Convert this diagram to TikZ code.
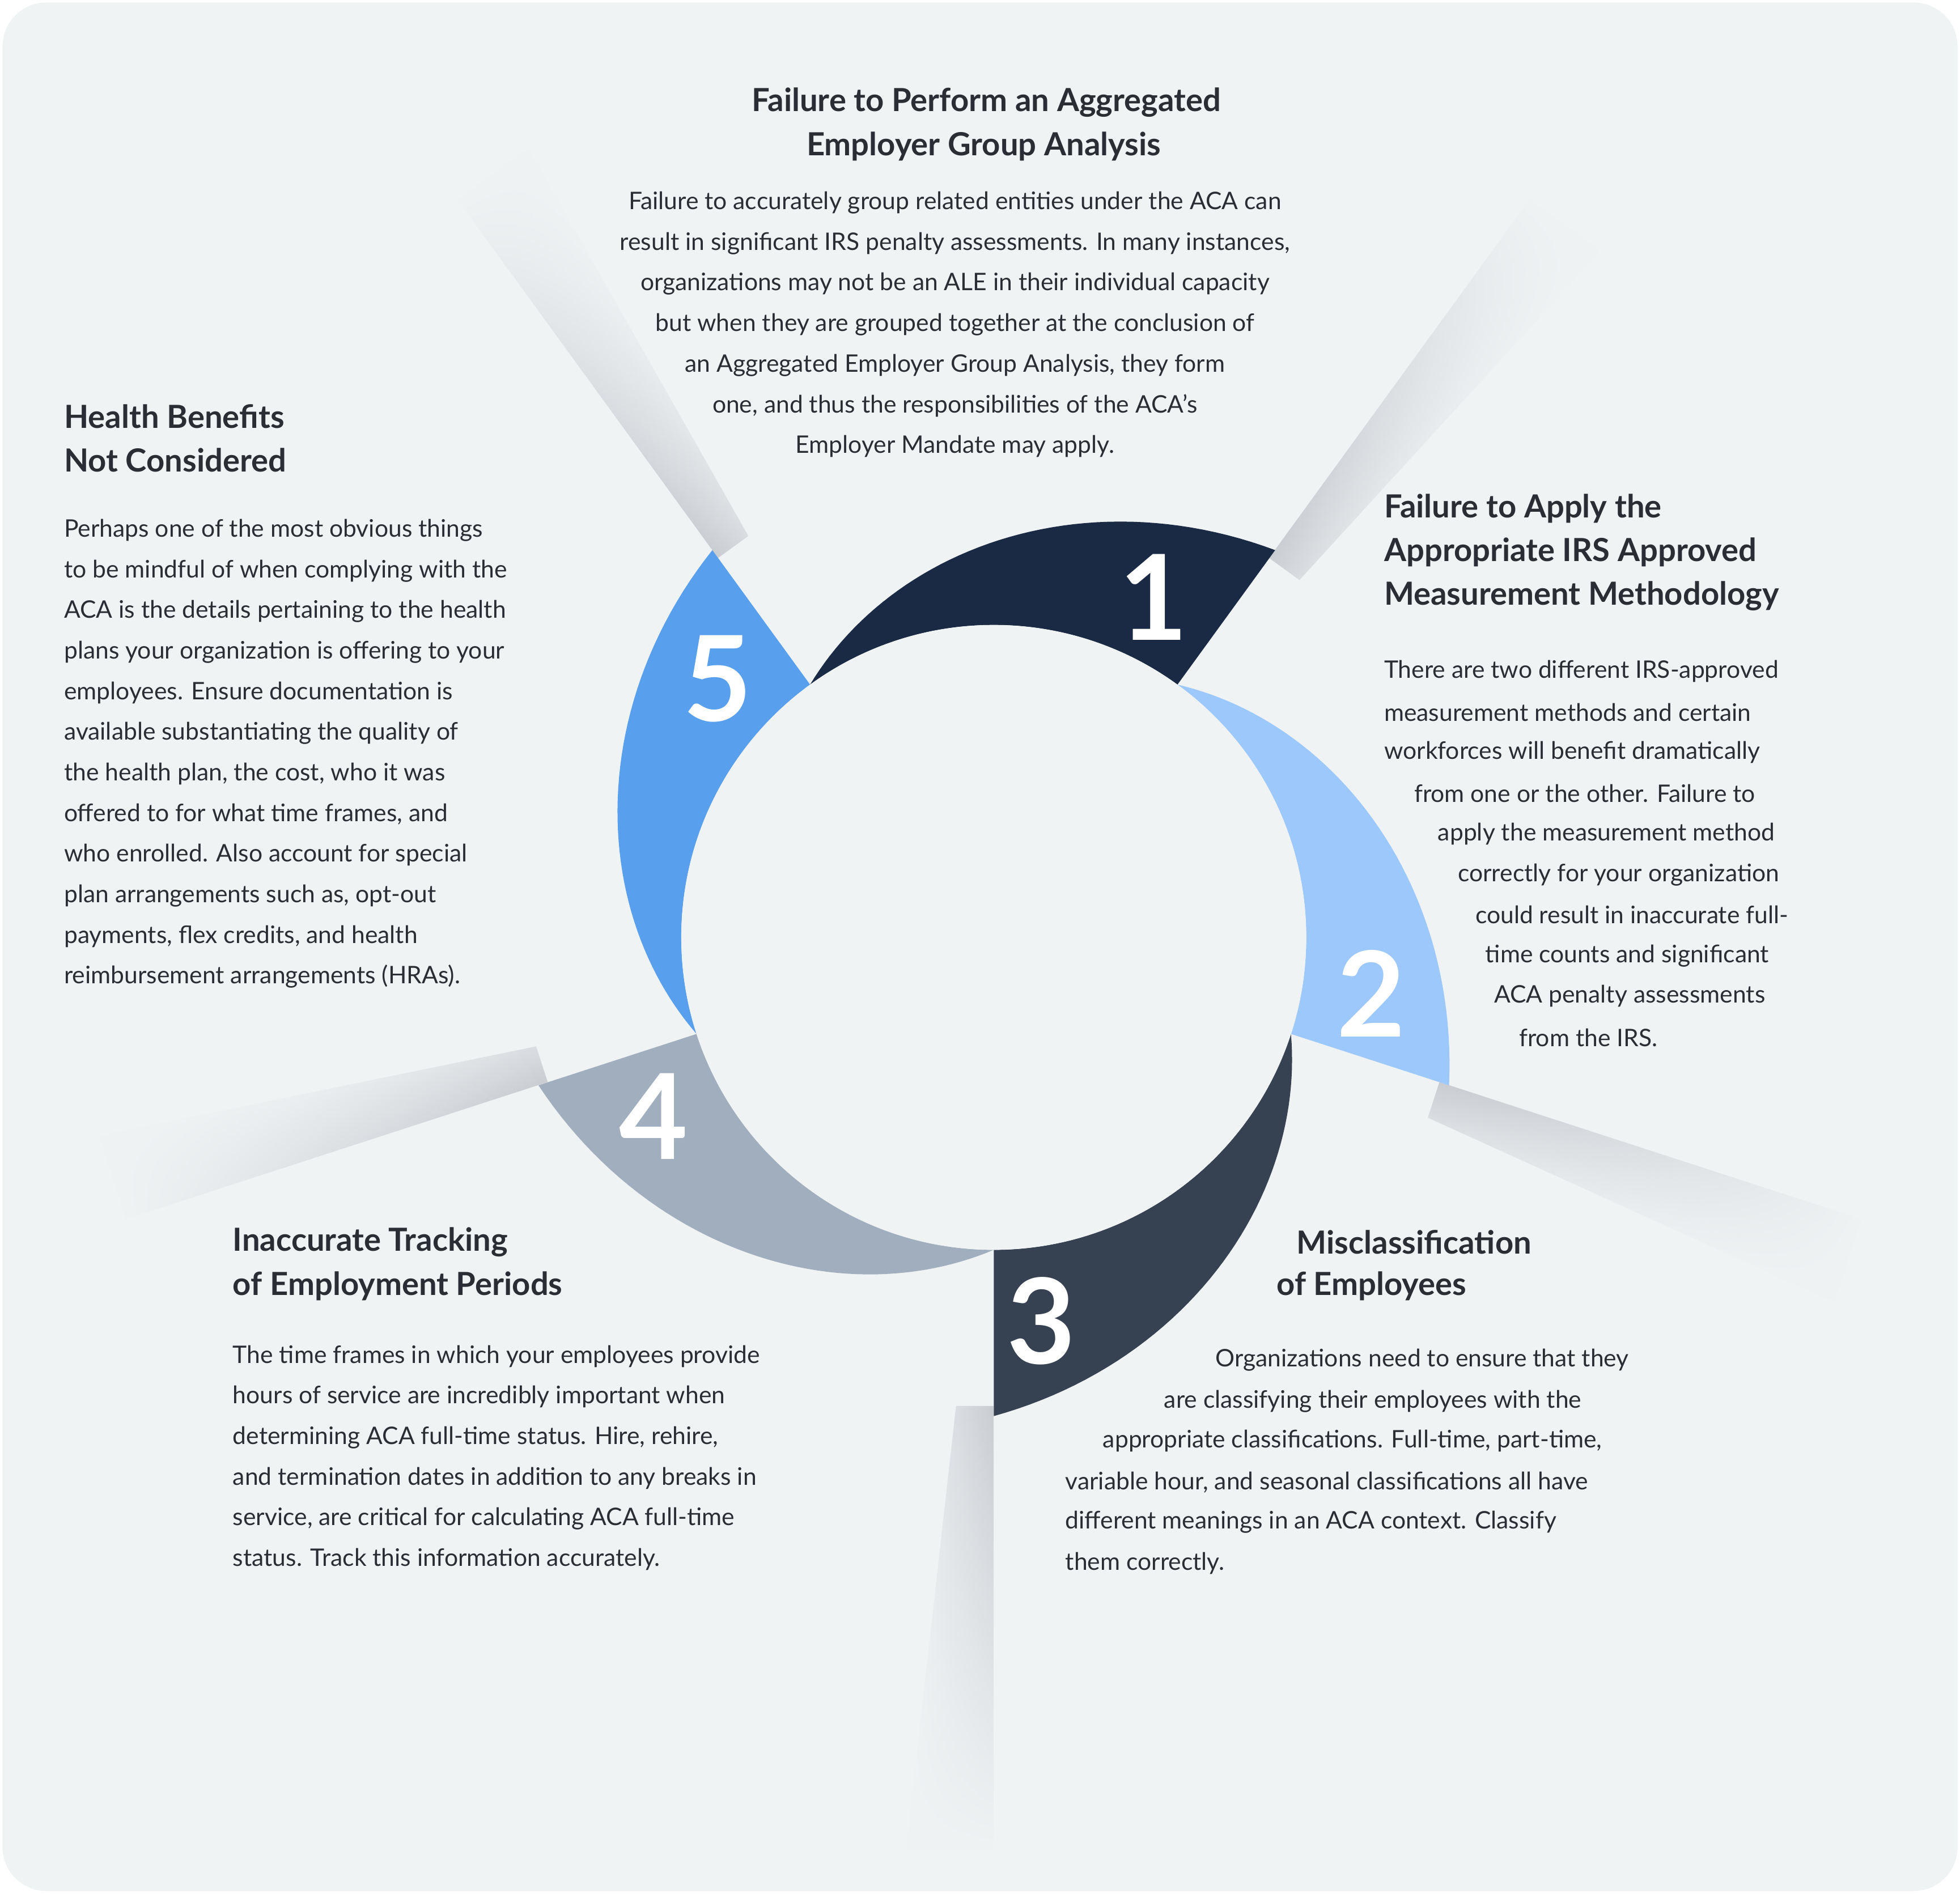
\documentclass[tikz,border=0pt]{standalone}
\usepackage{fontspec}
\setmainfont{Lato}
\usetikzlibrary{fadings}
\definecolor{bg}{HTML}{F0F3F4}
\definecolor{shd}{HTML}{C9CDD2}
\definecolor{txt}{HTML}{2A2D33}
\definecolor{cA}{HTML}{1B2A44}
\definecolor{cB}{HTML}{9DC8FB}
\definecolor{cC}{HTML}{364152}
\definecolor{cD}{HTML}{A0AEBD}
\definecolor{cE}{HTML}{589FEE}
\tikzset{
 body/.style={font=\fontsize{11}{18.5}\selectfont, text=txt, inner sep=0pt, anchor=west},
 ttl/.style={font=\fontsize{14.5}{20}\selectfont\bfseries, text=txt, inner sep=0pt, anchor=west},
 num/.style={font=\fontsize{54}{54}\selectfont\bfseries, text=white, inner sep=0pt},
}
\begin{document}
\begin{tikzpicture}[x=0.02cm,y=-0.02cm]
\useasboundingbox (0,0) rectangle (1568,1515);
\fill[white] (0,0) rectangle (1568,1515);
\fill[bg, rounded corners=20] (2,2) rectangle (1566,1513);
% shadows
\foreach \a/\n in {54/sa,-18/sb,-90/sc,-162/sd,126/se}{
 \begin{scope}[x=0.02cm,y=0.02cm,transform canvas={shift={(15.9cm,-15cm)},rotate=\a}]
  \shade[top color=shd, bottom color=bg, path fading=east] (375,0) -- (730,0) -- (730,-70) -- (375,-30) -- cycle;
 \end{scope}}
% segments
\foreach \a/\c/\n in {54/cA/1,-18/cB/2,-90/cC/3,-162/cD/4,126/cE/5}{
 \fill[\c] plot[domain=72:0,samples=50] ({795+(250+133*(72-\x)/72)*cos(\a+\x)},{750-(250+133*(72-\x)/72)*sin(\a+\x)})
   -- plot[domain=0:72,samples=50] ({795+250*cos(\a+\x)},{750-250*sin(\a+\x)}) -- cycle;
}
\fill[bg] (795,750) circle (250);
\node[num] (n1) at (923,478) {1};
\node[num] (n2) at (1097,795) {2};
\node[num] (n3) at (833,1057) {3};
\node[num] (n4) at (523,893) {4};
\node[num] (n5) at (574,543) {5};
% top
\node[ttl,anchor=center] (t1) at (789,82) {Failure to Perform an Aggregated};
\node[ttl,anchor=center] (t1b) at (787,117) {Employer Group Analysis};
\node[body,anchor=north,align=center] (b1) at (764,153) {Failure to accurately group related entities under the ACA can\\result in significant IRS penalty assessments. In many instances,\\organizations may not be an ALE in their individual capacity\\but when they are grouped together at the conclusion of\\an Aggregated Employer Group Analysis, they form\\one, and thus the responsibilities of the ACA’s\\Employer Mandate may apply.};
% right
\node[ttl] (t2a) at (1107,407) {Failure to Apply the};
\node[ttl] (t2b) at (1107,442) {Appropriate IRS Approved};
\node[ttl] (t2c) at (1107,477) {Measurement Methodology};
\node[body] (r1) at (1107,537) {There are two different IRS-approved};
\node[body] (r2) at (1107,570) {measurement methods and certain};
\node[body] (r3) at (1107,602) {workforces will benefit dramatically};
\node[body] (r4) at (1131,635) {from one or the other. Failure to};
\node[body] (r5) at (1150,667) {apply the measurement method};
\node[body] (r6) at (1166,700) {correctly for your organization};
\node[body] (r7) at (1180,732) {could result in inaccurate full-};
\node[body] (r8) at (1188,765) {time counts and significant};
\node[body] (r9) at (1195,797) {ACA penalty assessments};
\node[body] (r10) at (1215,830) {from the IRS.};
% left
\node[ttl] (t5a) at (51,333) {Health Benefits};
\node[ttl] (t5b) at (51,368) {Not Considered};
\node[body,anchor=north west,align=left] (b5) at (51,415) {Perhaps one of the most obvious things\\to be mindful of when complying with the\\ACA is the details pertaining to the health\\plans your organization is offering to your\\employees. Ensure documentation is\\available substantiating the quality of\\the health plan, the cost, who it was\\offered to for what time frames, and\\who enrolled. Also account for special\\plan arrangements such as, opt-out\\payments, flex credits, and health\\reimbursement arrangements (HRAs).};
% bottom left
\node[ttl] (t4a) at (186,994) {Inaccurate Tracking};
\node[ttl] (t4b) at (186,1029) {of Employment Periods};
\node[body,anchor=north west,align=left] (b4) at (186,1076) {The time frames in which your employees provide\\hours of service are incredibly important when\\determining ACA full-time status. Hire, rehire,\\and termination dates in addition to any breaks in\\service, are critical for calculating ACA full-time\\status. Track this information accurately.};
% bottom right
\node[ttl] (t3a) at (1037,994) {Misclassification};
\node[ttl] (t3b) at (1021,1029) {of Employees};
\node[body] (m1) at (972,1088) {Organizations need to ensure that they};
\node[body] (m2) at (931,1121) {are classifying their employees with the};
\node[body] (m3) at (882,1153) {appropriate classifications. Full-time, part-time,};
\node[body] (m4) at (852,1186) {variable hour, and seasonal classifications all have};
\node[body] (m5) at (852,1218) {different meanings in an ACA context. Classify};
\node[body] (m6) at (852,1251) {them correctly.};
\end{tikzpicture}
\end{document}
